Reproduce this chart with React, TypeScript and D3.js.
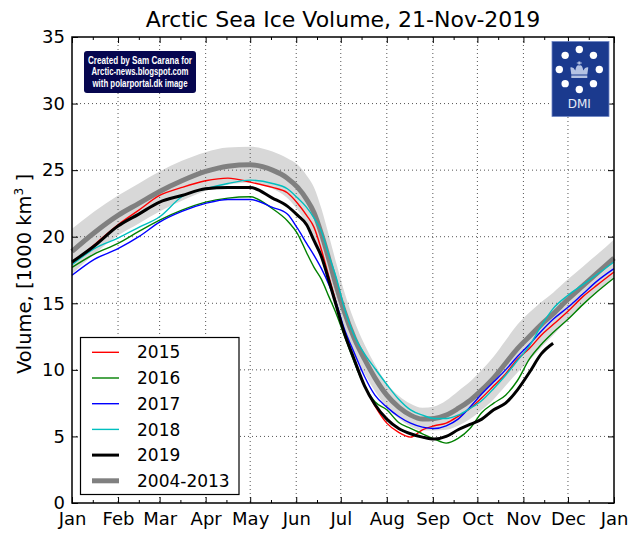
import * as d3 from "d3";
import { useEffect, useRef } from "react";

// day of year for every sampled value
const days = [
  0, 15, 31, 45, 59, 74, 90, 105, 120, 135, 145, 152, 158, 163, 168, 173, 178, 183, 190, 197,
  204, 212, 220, 228, 236, 244, 252, 260, 268, 276, 284, 292, 300, 308, 316, 324, 334, 344, 354, 365,
];

const mean0413 = [
  18.9, 20.3, 21.6, 22.5, 23.4, 24.2, 24.9, 25.3, 25.4, 25.0, 24.4, 23.7, 22.8, 21.8, 20.2, 18.3, 16.3, 14.5, 12.4, 10.8,
  9.4, 8.1, 7.2, 6.6, 6.3, 6.35, 6.6, 7.1, 7.7, 8.5, 9.4, 10.5, 11.6, 12.5, 13.4, 14.2, 15.3, 16.3, 17.3, 18.4,
];
const sd0413 = [
  1.7, 1.6, 1.5, 1.5, 1.5, 1.5, 1.45, 1.4, 1.35, 1.4, 1.5, 1.7, 1.8, 1.9, 1.9, 1.8, 1.7, 1.5, 1.3, 1.1,
  1.0, 0.9, 0.85, 0.85, 0.85, 0.9, 1.1, 1.3, 1.4, 1.5, 1.6, 1.7, 1.8, 1.8, 1.7, 1.6, 1.5, 1.45, 1.4, 1.4,
];
const vol2015 = [
  18.0, 19.4, 20.9, 22.0, 23.1, 23.7, 24.2, 24.4, 24.1, 23.7, 23.3, 22.5, 21.6, 20.7, 19.0, 17.0, 15.0, 13.0, 10.8, 8.8,
  7.3, 6.0, 5.3, 4.95, 5.5, 5.8, 6.0, 6.5, 7.1, 7.9, 8.8, 9.7, 10.8, 11.6, 12.6, 13.4, 14.4, 15.5, 16.4, 17.35,
];
const vol2016 = [
  17.7, 18.7, 19.5, 20.4, 21.25, 22.0, 22.6, 22.9, 23.0, 22.1, 21.2, 20.2, 18.8, 17.7, 16.8, 15.5, 14.2, 12.7, 10.6, 8.8,
  7.6, 7.0, 6.05, 5.6, 5.2, 4.8, 4.5, 4.85, 5.6, 6.8, 7.5, 8.1, 9.2, 10.8, 11.9, 12.8, 13.8, 14.9, 15.9, 16.9,
];
const vol2017 = [
  17.1, 18.3, 19.1, 20.0, 21.1, 21.9, 22.5, 22.8, 22.8, 22.2, 21.7, 20.6, 19.5, 18.6, 17.6, 16.4, 15.0, 13.2, 11.3, 9.5,
  8.1, 7.2, 6.5, 6.0, 5.7, 5.6, 5.8, 6.3, 7.2, 8.2, 9.1, 10.0, 11.0, 11.9, 12.9, 13.8, 14.7, 15.7, 16.7, 17.6,
];
const vol2018 = [
  17.9, 19.1, 19.9, 20.7, 21.5, 23.0, 23.6, 24.0, 24.25, 24.0, 23.6, 22.9, 22.2, 21.4, 20.4, 18.6, 16.9, 14.8, 12.6, 11.2,
  10.1, 8.9, 7.8, 7.0, 6.6, 6.35, 6.35, 6.6, 7.1, 7.7, 8.6, 9.6, 10.7, 11.8, 13.3, 14.6, 15.6, 16.4, 17.2, 18.1,
];
// 2019 runs up to 21 Nov
const vol2019 = [
  18.1, 19.3, 20.8, 21.7, 22.6, 23.1, 23.6, 23.7, 23.7, 22.9, 22.3, 21.6, 20.9, 19.7, 18.5, 16.7, 14.8, 12.9, 10.8, 8.8,
  7.4, 6.3, 5.6, 5.2, 4.95, 4.8, 5.0, 5.5, 5.9, 6.3, 7.0, 7.5, 8.5, 9.8, 11.2, 12.0,
];

const monthStarts = [0, 31, 59, 90, 120, 151, 181, 212, 243, 273, 304, 334, 365];
const monthLabels = ["Jan", "Feb", "Mar", "Apr", "May", "Jun", "Jul", "Aug", "Sep", "Oct", "Nov", "Dec", "Jan"];
const yTicks = [0, 5, 10, 15, 20, 25, 30, 35];

const creditLines = ["Created by Sam Carana for", "Arctic-news.blogspot.com", "with polarportal.dk image"];

const years = [
  { label: "2015", values: vol2015, color: "#ff0000", width: 1.4 },
  { label: "2016", values: vol2016, color: "#008000", width: 1.4 },
  { label: "2017", values: vol2017, color: "#0000ff", width: 1.4 },
  { label: "2018", values: vol2018, color: "#00bfbf", width: 1.4 },
  { label: "2019", values: vol2019, color: "#000000", width: 3 },
];

const FONT = "DejaVu Sans, sans-serif";

export default function App() {
  const ref = useRef<SVGSVGElement>(null);

  useEffect(() => {
    if (!ref.current) return;
    const svg = d3.select(ref.current);
    svg.selectAll("*").remove();

    const left = 72, right = 614, top = 37, bottom = 503;
    const x = d3.scaleLinear().domain([0, 365]).range([left, right]);
    const y = d3.scaleLinear().domain([0, 35]).range([bottom, top]);

    svg.append("rect").attr("width", 640).attr("height", 541).attr("fill", "#fff");

    // shaded band of 2004-2013
    const band = d3
      .area<number>()
      .x((_, i) => x(days[i]))
      .y0((d, i) => y(d - sd0413[i]))
      .y1((d, i) => y(d + sd0413[i]))
      .curve(d3.curveMonotoneX);
    svg.append("path").datum(mean0413).attr("d", band).attr("fill", "#d8d8d8");

    // grid
    const grid = svg.append("g").attr("stroke", "#555").attr("stroke-width", 1).attr("stroke-dasharray", "1,3");
    monthStarts.slice(1, -1).forEach((d) => {
      grid.append("line").attr("x1", x(d)).attr("x2", x(d)).attr("y1", top).attr("y2", bottom);
    });
    yTicks.slice(1, -1).forEach((v) => {
      grid.append("line").attr("x1", left).attr("x2", right).attr("y1", y(v)).attr("y2", y(v));
    });

    const line = (vals: number[]) =>
      d3
        .line<number>()
        .x((_, i) => x(days[i]))
        .y((d) => y(d))
        .curve(d3.curveMonotoneX)(vals);

    svg.append("path").attr("d", line(mean0413)).attr("fill", "none").attr("stroke", "#808080").attr("stroke-width", 5);

    years.forEach((s) => {
      svg
        .append("path")
        .attr("d", line(s.values))
        .attr("fill", "none")
        .attr("stroke", s.color)
        .attr("stroke-width", s.width)
        .attr("stroke-linejoin", "round");
    });

    // axes with inward ticks
    const minorDays = monthStarts.slice(0, -1).map((d) => d + 14);
    const styleAxis = (g: d3.Selection<SVGGElement, unknown, null, undefined>) => {
      g.select(".domain").remove();
      g.selectAll(".tick line").attr("stroke", "#000").attr("stroke-width", 1);
      g.selectAll("text").attr("font-family", FONT).attr("font-size", 18).attr("fill", "#000");
    };

    svg
      .append("g")
      .attr("transform", `translate(0,${bottom})`)
      .call(
        d3.axisBottom(x).tickValues(monthStarts).tickSize(-6).tickPadding(9)
          .tickFormat((_, i) => monthLabels[i])
      )
      .call(styleAxis);
    svg
      .append("g")
      .attr("transform", `translate(0,${bottom})`)
      .call(d3.axisBottom(x).tickValues(minorDays).tickSize(-3).tickFormat(() => ""))
      .call(styleAxis);
    svg
      .append("g")
      .attr("transform", `translate(0,${top})`)
      .call(d3.axisTop(x).tickValues(monthStarts).tickSize(-6).tickFormat(() => ""))
      .call(styleAxis);
    svg
      .append("g")
      .attr("transform", `translate(0,${top})`)
      .call(d3.axisTop(x).tickValues(minorDays).tickSize(-3).tickFormat(() => ""))
      .call(styleAxis);
    svg
      .append("g")
      .attr("transform", `translate(${left},0)`)
      .call(d3.axisLeft(y).tickValues(yTicks).tickSize(-6).tickPadding(7).tickFormat(d3.format("d")))
      .call(styleAxis);
    svg
      .append("g")
      .attr("transform", `translate(${right},0)`)
      .call(d3.axisRight(y).tickValues(yTicks).tickSize(-6).tickFormat(() => ""))
      .call(styleAxis);

    svg
      .append("rect")
      .attr("x", left)
      .attr("y", top)
      .attr("width", right - left)
      .attr("height", bottom - top)
      .attr("fill", "none")
      .attr("stroke", "#000")
      .attr("stroke-width", 1.5);

    // title
    svg
      .append("text")
      .attr("x", (left + right) / 2)
      .attr("y", 27)
      .attr("text-anchor", "middle")
      .attr("font-family", FONT)
      .attr("font-size", 22)
      .text("Arctic Sea Ice Volume, 21-Nov-2019");

    // y label
    const yl = svg
      .append("text")
      .attr("transform", `translate(31,274) rotate(-90)`)
      .attr("text-anchor", "middle")
      .attr("font-family", FONT)
      .attr("font-size", 19.5);
    yl.append("tspan").text("Volume, [1000 km");
    yl.append("tspan").attr("font-size", 12).attr("dy", -8).text("3");
    yl.append("tspan").attr("dy", 8).text(" ]");

    // legend
    const lg = svg.append("g");
    lg.append("rect")
      .attr("x", 80.5)
      .attr("y", 337.5)
      .attr("width", 158.5)
      .attr("height", 157)
      .attr("fill", "#fff")
      .attr("stroke", "#000")
      .attr("stroke-width", 1.2);
    const entries = [...years, { label: "2004-2013", values: mean0413, color: "#808080", width: 5 }];
    entries.forEach((s, i) => {
      const cy = 352.3 + i * 25.7;
      lg.append("line")
        .attr("x1", 92)
        .attr("x2", 119)
        .attr("y1", cy)
        .attr("y2", cy)
        .attr("stroke", s.color)
        .attr("stroke-width", s.width);
      lg.append("text")
        .attr("x", 137)
        .attr("y", cy)
        .attr("dy", "0.36em")
        .attr("font-family", FONT)
        .attr("font-size", 17)
        .text(s.label);
    });

    // credit box
    svg
      .append("rect")
      .attr("x", 84)
      .attr("y", 51)
      .attr("width", 112)
      .attr("height", 42)
      .attr("rx", 3)
      .attr("fill", "#06064f");
    const creditWidths = [104, 97, 95];
    creditLines.forEach((t, i) => {
      svg
        .append("text")
        .attr("x", 140)
        .attr("y", 63.5 + i * 11.7)
        .attr("text-anchor", "middle")
        .attr("font-family", "Liberation Sans Narrow, Liberation Sans, sans-serif")
        .attr("font-weight", "bold")
        .attr("font-size", 10.5)
        .attr("fill", "#fff")
        .attr("textLength", creditWidths[i])
        .attr("lengthAdjust", "spacingAndGlyphs")
        .text(t);
    });

    // DMI logo
    const logo = svg.append("g");
    logo.append("rect")
      .attr("x", 552)
      .attr("y", 41.5)
      .attr("width", 57)
      .attr("height", 75)
      .attr("fill", "#1b3a8e")
      .attr("stroke", "#6f86c4")
      .attr("stroke-width", 0.8);
    const cx = 579.3, cyL = 69.5;
    d3.range(8).forEach((k) => {
      const a = (k * Math.PI) / 4;
      logo.append("circle")
        .attr("cx", cx + 20 * Math.sin(a))
        .attr("cy", cyL - 20 * Math.cos(a))
        .attr("r", 3.7)
        .attr("fill", "#fff");
    });
    logo.append("path")
      .attr("transform", `translate(${cx},${cyL + 1})`)
      .attr(
        "d",
        "M-8,4 L-9,-3 Q-6,-4 -4,0 Q-3,-6 0,-5 Q3,-6 4,0 Q6,-4 9,-3 L8,4 Z M-8,5 L8,5 L8,7.5 L-8,7.5 Z M-1,-6 L-1,-9 L1,-9 L1,-6 Z M-2.5,-8 L2.5,-8 L2.5,-7 L-2.5,-7 Z"
      )
      .attr("fill", "#b5c3e3");
    logo.append("text")
      .attr("x", cx)
      .attr("y", 108)
      .attr("text-anchor", "middle")
      .attr("font-family", FONT)
      .attr("font-size", 12)
      .attr("fill", "#e6ebf7")
      .text("DMI");
  }, []);

  return <svg ref={ref} width={640} height={541} style={{ position: "absolute", left: 0, top: 0 }} />;
}
